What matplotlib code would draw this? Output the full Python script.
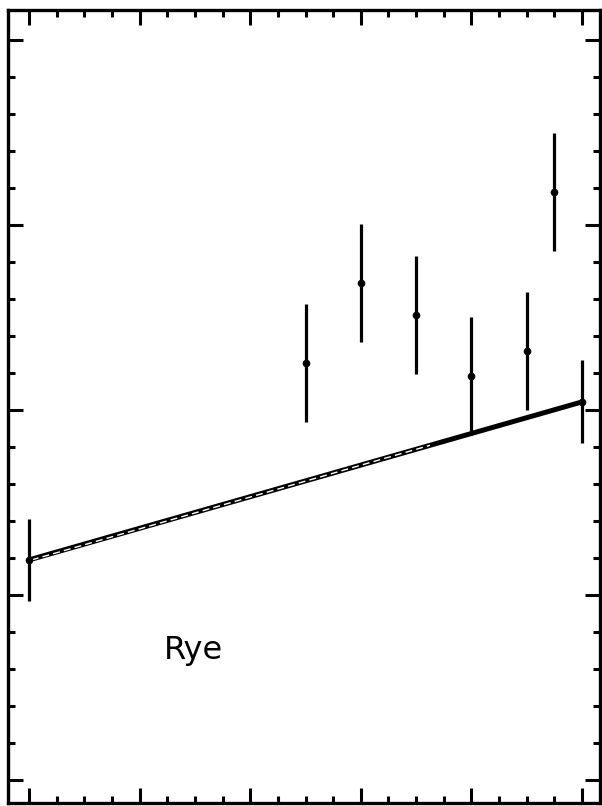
import matplotlib
matplotlib.use("Agg")
import matplotlib.pyplot as plt
from matplotlib.ticker import MultipleLocator

# sample position (x) and measured value with its error bar
x_pos = [0, 10, 12, 14, 16, 18, 19, 20]
y_val = [5.95, 11.27, 13.43, 12.57, 10.92, 11.59, 15.89, 10.22]
y_err = [1.10, 1.60, 1.60, 1.60, 1.60, 1.60, 1.60, 1.12]

# fitted trend between first and last sample
trend_x = [0, 20]
trend_y = [5.95, 10.22]

label = "Rye"

fig = plt.figure(figsize=(6.02, 8.06), dpi=100)
ax = fig.add_axes([0.0133, 0.0037, 0.9834, 0.9839])

ax.plot(trend_x, trend_y, color="black", lw=3.6, solid_capstyle="butt", zorder=2)
# the drawn line is doubled over most of its length, leaving a thin light seam
seam_end = 14.5
seam_y = trend_y[0] + (trend_y[1] - trend_y[0]) * seam_end / trend_x[1]
ax.plot([0.1, seam_end], [trend_y[0], seam_y], color="white", lw=1.0,
        ls=(0, (5, 3)), zorder=3)

ax.errorbar(x_pos, y_val, yerr=y_err, fmt="o", color="black", ms=4.5,
            elinewidth=2.3, capsize=0, zorder=4)

ax.text(5.95, 3.5, label, fontsize=23, family="DejaVu Sans",
        ha="center", va="center")

ax.set_xlim(-0.76, 20.65)
ax.set_ylim(-0.62, 20.81)

ax.xaxis.set_major_locator(MultipleLocator(4))
ax.xaxis.set_minor_locator(MultipleLocator(1))
ax.yaxis.set_major_locator(MultipleLocator(5))
ax.yaxis.set_minor_locator(MultipleLocator(1))
ax.tick_params(which="both", direction="in", top=True, right=True,
               labelbottom=False, labelleft=False, width=2.2, color="black")
ax.tick_params(which="major", length=11)
ax.tick_params(which="minor", length=5)

for sp in ax.spines.values():
    sp.set_linewidth(2.4)

fig.savefig("out.png", dpi=100)
